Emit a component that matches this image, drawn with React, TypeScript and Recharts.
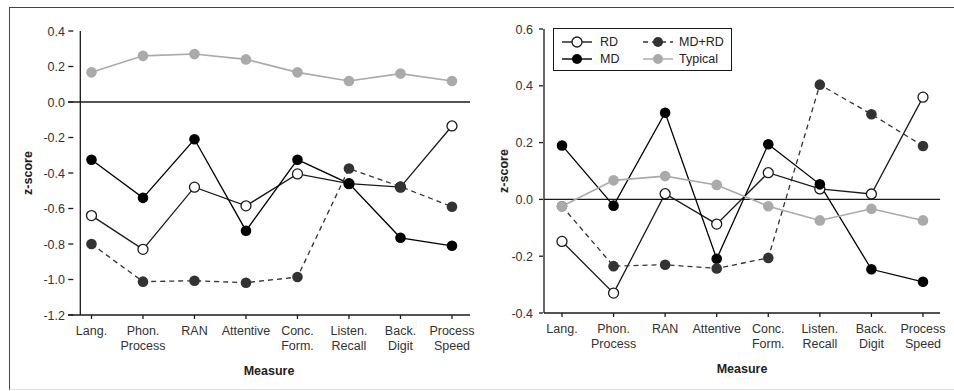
import React from "react";
import { Legend, Line, LineChart, ReferenceLine, XAxis, YAxis } from "recharts";

const MEASURES = [
  "Lang.",
  "Phon.\nProcess",
  "RAN",
  "Attentive",
  "Conc.\nForm.",
  "Listen.\nRecall",
  "Back.\nDigit",
  "Process\nSpeed",
];

// left panel
const LEFT_RD = [-0.64, -0.83, -0.48, -0.585, -0.405, -0.46, -0.48, -0.135];
const LEFT_MD = [-0.325, -0.54, -0.21, -0.725, -0.325, -0.46, -0.765, -0.81];
const LEFT_MDRD = [-0.8, -1.012, -1.007, -1.018, -0.986, -0.375, -0.477, -0.59];
const LEFT_TYPICAL = [0.167, 0.26, 0.27, 0.24, 0.167, 0.118, 0.16, 0.118];
const LEFT_TICKS = [-1.2, -1.0, -0.8, -0.6, -0.4, -0.2, 0.0, 0.2, 0.4];

// right panel
const RIGHT_RD = [-0.148, -0.33, 0.02, -0.087, 0.094, 0.037, 0.019, 0.36];
const RIGHT_MD = [0.19, -0.022, 0.305, -0.209, 0.194, 0.053, -0.246, -0.29];
const RIGHT_MDRD = [-0.024, -0.235, -0.23, -0.243, -0.206, 0.404, 0.3, 0.188];
const RIGHT_TYPICAL = [-0.024, 0.067, 0.082, 0.051, -0.024, -0.074, -0.033, -0.074];
const RIGHT_TICKS = [-0.4, -0.2, 0.0, 0.2, 0.4, 0.6];

const INK = "#1a1a1a";
const FONT = "'Liberation Sans', Arial, sans-serif";

const SERIES = [
  { key: "rd", name: "RD", stroke: INK, fill: "#fff", dash: undefined },
  { key: "md", name: "MD", stroke: "#000", fill: "#000", dash: undefined },
  { key: "mdrd", name: "MD+RD", stroke: "#333", fill: "#333", dash: "5 4" },
  { key: "typ", name: "Typical", stroke: "#aaa", fill: "#aaa", dash: undefined },
];

const buildRows = (rd: number[], md: number[], mdrd: number[], typ: number[]) =>
  MEASURES.map((_, i) => ({ i, rd: rd[i], md: md[i], mdrd: mdrd[i], typ: typ[i] }));

const XTick = ({ x, y, payload }: any) => {
  const lines = (MEASURES[payload.value] ?? "").split("\n");
  return (
    <text x={x} y={y} textAnchor="middle" fill="#333" fontSize={12.5} fontFamily={FONT}>
      {lines.map((l, k) => (
        <tspan key={k} x={x} dy={k === 0 ? 14 : 15}>
          {l}
        </tspan>
      ))}
    </text>
  );
};

const makeYTick = (from: number, to: number) => ({ x, y, payload }: any) => (
  <g>
    <line x1={x + from} x2={x + to} y1={y} y2={y} stroke={INK} strokeWidth={1.3} />
    <text x={x} y={y} dy={4.5} textAnchor="end" fill="#333" fontSize={12.5} fontFamily={FONT}>
      {payload.value.toFixed(1)}
    </text>
  </g>
);

const LegendBox = () => (
  <div
    style={{
      position: "relative",
      width: 177,
      height: 41,
      border: `1.5px solid ${INK}`,
      background: "#fff",
      fontFamily: FONT,
      fontSize: 12.5,
      color: "#222",
    }}
  >
    {SERIES.map((s, idx) => {
      const col = Math.floor(idx / 2);
      const row = idx % 2;
      return (
        <div
          key={s.key}
          style={{
            position: "absolute",
            left: col === 0 ? 8 : 89,
            top: row === 0 ? 5 : 22,
            display: "flex",
            alignItems: "center",
            height: 16,
            whiteSpace: "nowrap",
          }}
        >
          <svg width={30} height={12} style={{ marginRight: col === 0 ? 8 : 6 }}>
            <line x1={0} x2={30} y1={6} y2={6} stroke={s.stroke} strokeWidth={1.4} strokeDasharray={s.dash} />
            <circle cx={15} cy={6} r={5} fill={s.fill} stroke={s.key === "rd" ? INK : "none"} strokeWidth={1.3} />
          </svg>
          <span>{s.name}</span>
        </div>
      );
    })}
  </div>
);

type PanelProps = {
  rows: ReturnType<typeof buildRows>;
  ticks: number[];
  yDomain: [number, number];
  xDomain: [number, number];
  margin: { top: number; right: number; bottom: number; left: number };
  yTickMargin: number;
  yTickLine: [number, number];
  axisAt?: number;
  legend?: boolean;
};

const Panel = ({ rows, ticks, yDomain, xDomain, margin, yTickMargin, yTickLine, axisAt, legend }: PanelProps) => (
  <LineChart width={477} height={391} data={rows} margin={margin}>
    <XAxis
      dataKey="i"
      type="number"
      domain={xDomain}
      ticks={[0, 1, 2, 3, 4, 5, 6, 7]}
      interval={0}
      allowDataOverflow
      height={60}
      tickSize={4}
      tickMargin={2}
      tick={<XTick />}
      axisLine={{ stroke: INK, strokeWidth: 1.3 }}
      tickLine={{ stroke: INK, strokeWidth: 1.3 }}
      label={{
        value: "Measure",
        position: "insideBottom",
        offset: 0,
        fill: "#222",
        fontSize: 12.5,
        fontWeight: "bold",
        fontFamily: FONT,
      }}
    />
    <YAxis
      type="number"
      domain={yDomain}
      ticks={ticks}
      interval={0}
      width={40}
      tickSize={0}
      tickMargin={yTickMargin}
      tick={makeYTick(yTickLine[0], yTickLine[1])}
      tickLine={false}
      axisLine={axisAt === undefined ? { stroke: INK, strokeWidth: 1.3 } : false}
      label={{
        value: "z-score",
        angle: -90,
        position: "insideLeft",
        offset: 0,
        fill: "#222",
        fontSize: 12.5,
        fontWeight: "bold",
        fontFamily: FONT,
        style: { textAnchor: "middle" },
      }}
    />
    <ReferenceLine y={0} stroke={INK} strokeWidth={1.3} />
    {axisAt !== undefined && <ReferenceLine x={axisAt} stroke={INK} strokeWidth={1.3} />}
    {SERIES.map((s) => (
      <Line
        key={s.key}
        dataKey={s.key}
        name={s.name}
        type="linear"
        stroke={s.stroke}
        strokeWidth={s.key === "typ" ? 1.6 : 1.3}
        strokeDasharray={s.dash}
        dot={{
          r: s.key === "rd" ? 5 : 5.3,
          fill: s.fill,
          stroke: s.key === "rd" ? INK : "none",
          strokeWidth: 1.3,
          strokeDasharray: "0",
        }}
        activeDot={false}
        isAnimationActive={false}
      />
    ))}
    {legend && (
      <Legend
        layout="horizontal"
        verticalAlign="middle"
        content={() => <LegendBox />}
        wrapperStyle={{ position: "absolute", left: 76, top: 28, width: "auto", height: "auto" }}
      />
    )}
  </LineChart>
);

export default function App() {
  return (
    <div style={{ position: "absolute", left: 0, top: 0, width: 954, height: 391, background: "#fff", overflow: "hidden" }}>
      <div
        style={{
          position: "absolute",
          left: 9,
          top: 7,
          width: 945,
          height: 381,
          borderTop: "1.5px solid #444",
          borderLeft: "1.5px solid #444",
          borderBottom: "1px solid #e2e2e2",
        }}
      />
      <div style={{ position: "absolute", left: 0, top: 0 }}>
        <Panel
          rows={buildRows(LEFT_RD, LEFT_MD, LEFT_MDRD, LEFT_TYPICAL)}
          ticks={LEFT_TICKS}
          yDomain={[-1.2, 0.4]}
          xDomain={[-0.456, 7.35]}
          margin={{ top: 31, right: 7, bottom: 16, left: 28 }}
          yTickMargin={3}
          yTickLine={[3.3, 8.3]}
          axisAt={-0.217}
        />
      </div>
      <div style={{ position: "absolute", left: 477, top: 0 }}>
        <Panel
          rows={buildRows(RIGHT_RD, RIGHT_MD, RIGHT_MDRD, RIGHT_TYPICAL)}
          ticks={RIGHT_TICKS}
          yDomain={[-0.4, 0.6]}
          xDomain={[-0.349, 7.33]}
          margin={{ top: 29, right: 14, bottom: 18, left: 27 }}
          yTickMargin={11}
          yTickLine={[6, 10]}
          legend
        />
      </div>
    </div>
  );
}
